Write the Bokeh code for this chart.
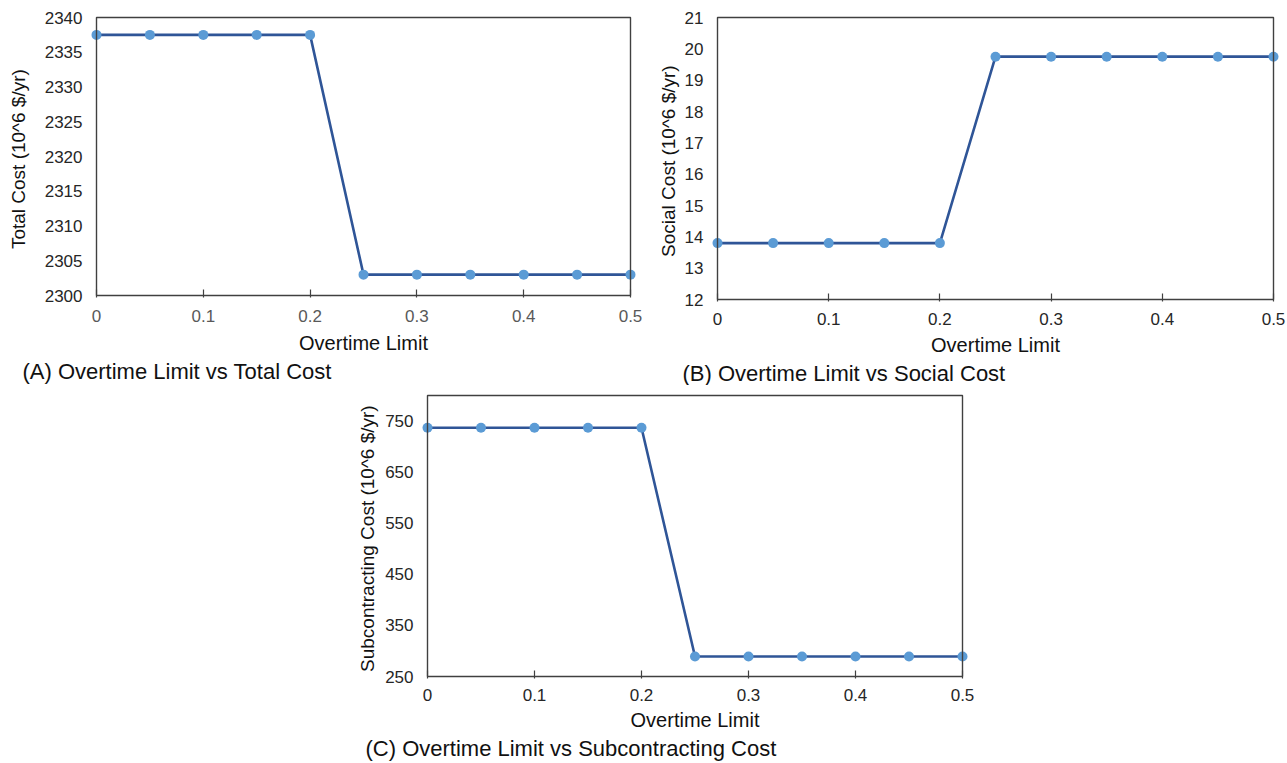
from bokeh.plotting import figure
from bokeh.layouts import column, row
from bokeh.models import (Range1d, FixedTicker, NumeralTickFormatter, BoxAnnotation,
                          Title, Spacer, ColumnDataSource)
from bokeh.embed import file_html
from bokeh.resources import INLINE

# ---------------- data ----------------
overtime_limit = [0, 0.05, 0.1, 0.15, 0.2, 0.25, 0.3, 0.35, 0.4, 0.45, 0.5]
total_cost = [2337.5, 2337.5, 2337.5, 2337.5, 2337.5, 2303.0, 2303.0, 2303.0, 2303.0, 2303.0, 2303.0]
social_cost = [13.8, 13.8, 13.8, 13.8, 13.8, 19.75, 19.75, 19.75, 19.75, 19.75, 19.75]
subcontracting_cost = [737, 737, 737, 737, 737, 289, 289, 289, 289, 289, 289]

x_ticks = [0, 0.1, 0.2, 0.3, 0.4, 0.5]
total_ticks = [2300, 2305, 2310, 2315, 2320, 2325, 2330, 2335, 2340]
social_ticks = [12, 13, 14, 15, 16, 17, 18, 19, 20, 21]
subc_ticks = [250, 350, 450, 550, 650, 750]

x_label = "Overtime Limit"
FONT = "Liberation Sans"
LINE_COLOR = "#2F5597"
MARKER_COLOR = "#5B9BD5"
FRAME_COLOR = "#404040"
PADX = 7
PADY = 2


def panel(xs, ys, xmin, xmax, ymin, ymax, yticks, ylabel, caption,
          fig_left, fig_top, fig_w, fig_h,
          box_left, box_top, box_w, box_h,
          ytick_right, ylab_standoff, xtick_top, xlab_standoff, cap_x, cap_standoff,
          xtick_color="#262626"):
    frame_left = box_left - PADX
    frame_top = box_top - PADY
    frame_w = box_w + 2 * PADX
    frame_h = box_h + 2 * PADY
    mbl = frame_left - fig_left
    mbt = frame_top - fig_top
    mbr = fig_w - mbl - frame_w
    mbb = fig_h - mbt - frame_h
    dx = (xmax - xmin) / box_w
    dy = (ymax - ymin) / box_h
    p = figure(frame_width=frame_w, frame_height=frame_h,
               min_border_left=mbl, min_border_right=mbr,
               min_border_top=mbt, min_border_bottom=mbb,
               x_range=Range1d(xmin - PADX * dx, xmax + PADX * dx),
               y_range=Range1d(ymin - PADY * dy, ymax + PADY * dy),
               output_backend="svg", toolbar_location=None,
               background_fill_color="white", border_fill_color="white")
    p.outline_line_color = None
    p.xgrid.visible = False
    p.ygrid.visible = False

    src = ColumnDataSource(dict(x=xs, y=ys))
    p.line("x", "y", source=src, line_color=LINE_COLOR, line_width=2.6)
    p.scatter("x", "y", source=src, size=10, fill_color=MARKER_COLOR,
              line_color=None)

    p.add_layout(BoxAnnotation(left=xmin, right=xmax, bottom=ymin, top=ymax,
                               fill_color=None, fill_alpha=0,
                               line_color=FRAME_COLOR, line_alpha=1.0,
                               line_width=1.4))

    frame_bottom = frame_top + frame_h
    # x axis
    xa = p.xaxis[0]
    xa.ticker = FixedTicker(ticks=x_ticks)
    xa.formatter = NumeralTickFormatter(format="0.[0]")
    xa.axis_line_color = None
    xa.major_tick_in = 6 + PADY
    xa.major_tick_out = 0
    xa.major_tick_line_color = FRAME_COLOR
    xa.major_tick_line_width = 1.2
    xa.minor_tick_line_color = None
    xa.major_label_text_font = FONT
    xa.major_label_text_font_size = "17px"
    xa.major_label_text_color = xtick_color
    xa.major_label_standoff = xtick_top - frame_bottom
    xa.axis_label = x_label
    xa.axis_label_text_font = FONT
    xa.axis_label_text_font_size = "20px"
    xa.axis_label_text_font_style = "normal"
    xa.axis_label_text_color = "#111111"
    xa.axis_label_standoff = xlab_standoff

    # y axis
    ya = p.yaxis[0]
    ya.ticker = FixedTicker(ticks=yticks)
    ya.axis_line_color = None
    ya.major_tick_in = 0
    ya.major_tick_out = 0
    ya.minor_tick_line_color = None
    ya.major_label_text_font = FONT
    ya.major_label_text_font_size = "17px"
    ya.major_label_text_color = "#262626"
    ya.major_label_standoff = frame_left - ytick_right
    ya.axis_label = ylabel
    ya.axis_label_text_font = FONT
    ya.axis_label_text_font_size = "19px"
    ya.axis_label_text_font_style = "normal"
    ya.axis_label_text_color = "#111111"
    ya.axis_label_standoff = ylab_standoff

    p.add_layout(Title(text=caption, align="left", offset=cap_x - frame_left,
                       standoff=cap_standoff, text_font=FONT,
                       text_font_size="22px", text_font_style="normal",
                       text_color="#111111"), "below")
    return p


pA = panel(overtime_limit, total_cost, 0, 0.5, 2300, 2340, total_ticks,
           "Total Cost (10^6  $/yr)", "(A) Overtime Limit vs Total Cost",
           fig_left=0, fig_top=0, fig_w=650, fig_h=385,
           box_left=96, box_top=17, box_w=534, box_h=278,
           ytick_right=82, ylab_standoff=13, xtick_top=309, xlab_standoff=7,
           cap_x=22, cap_standoff=1, xtick_color="#595959")

pB = panel(overtime_limit, social_cost, 0, 0.5, 12, 21, social_ticks,
           "Social Cost (10^6  $/yr)", "(B) Overtime Limit vs Social Cost",
           fig_left=650, fig_top=0, fig_w=637, fig_h=385,
           box_left=717, box_top=14, box_w=556, box_h=282,
           ytick_right=703, ylab_standoff=3, xtick_top=309, xlab_standoff=6,
           cap_x=682, cap_standoff=0)

pC = panel(overtime_limit, subcontracting_cost, 0, 0.5, 250, 800, subc_ticks,
           "Subcontracting Cost (10^6  $/yr)", "(C) Overtime Limit vs Subcontracting Cost",
           fig_left=300, fig_top=385, fig_w=700, fig_h=378,
           box_left=427, box_top=395, box_w=535, box_h=281,
           ytick_right=413, ylab_standoff=4, xtick_top=688, xlab_standoff=5,
           cap_x=365, cap_standoff=0)

layout = column(row(pA, pB), row(Spacer(width=300, height=378), pC))

with open("out.html", "w") as f:
    f.write(file_html(layout, INLINE))
